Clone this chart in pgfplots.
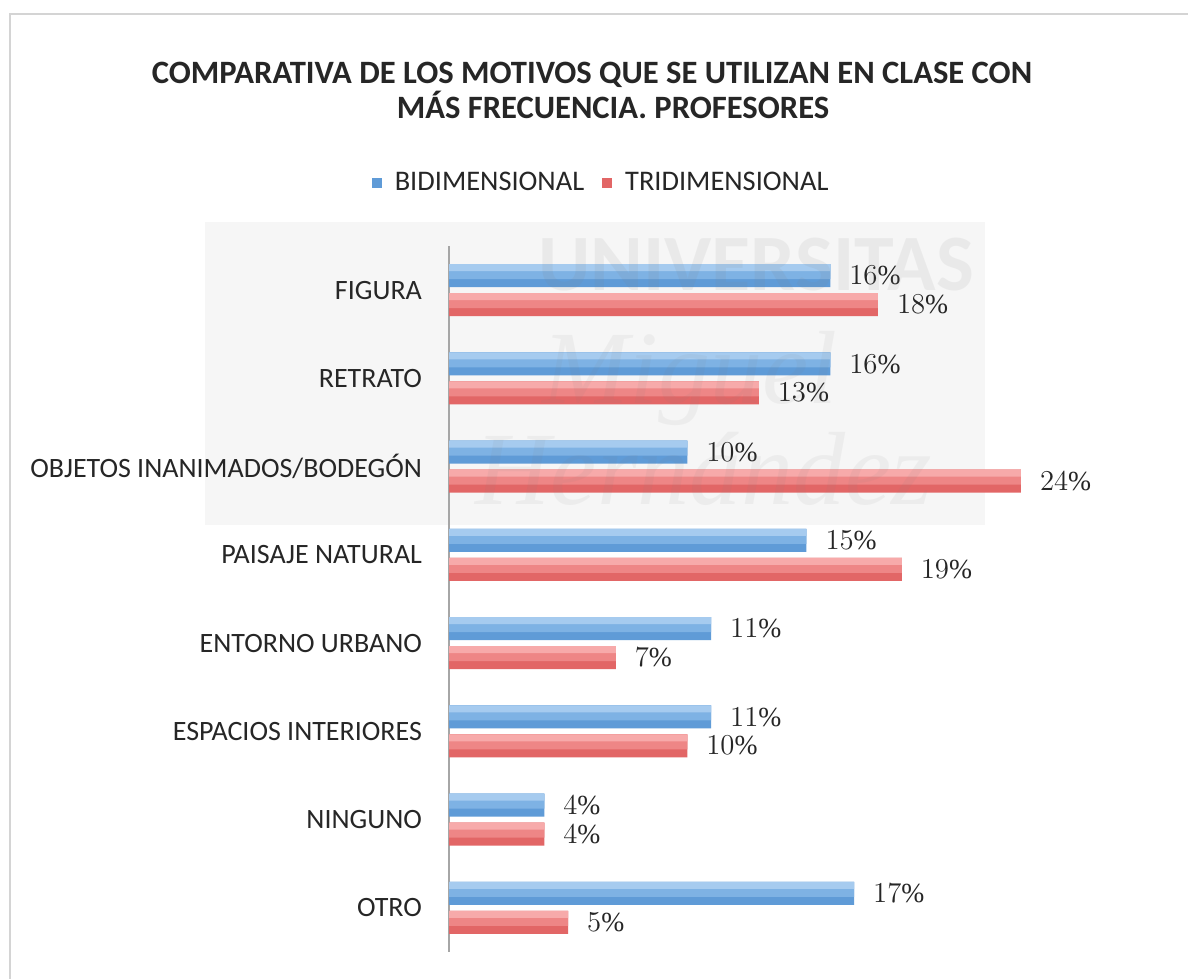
\documentclass[border=0pt]{standalone}
\usepackage{pgfplots}
\usepackage{pgfplotstable}
\pgfplotsset{compat=1.18}
\usepackage{fontspec}
\setmainfont{Carlito}
\newfontfamily\valfont{Liberation Serif}
\newfontfamily\wmserif{Liberation Serif}
\definecolor{blueC}{HTML}{5F9BD7}
\definecolor{blueA}{HTML}{7EB2E4}
\definecolor{blueL}{HTML}{A6CBEF}
\definecolor{redC}{HTML}{E26666}
\definecolor{redA}{HTML}{EE8686}
\definecolor{redL}{HTML}{F7AAAA}
\definecolor{framegray}{HTML}{D4D4D4}
\definecolor{axgray}{HTML}{A6A6A6}
\definecolor{txt}{HTML}{262626}
% y: 7 = FIGURA (top) ... 0 = OTRO (bottom)
\pgfplotstableread{
y bi tri
7 16 18
6 16 13
5 10 24
4 15 19
3 11 7
2 11 10
1 4 4
0 17 5
}\datatable
\begin{document}
\begin{tikzpicture}
\useasboundingbox (0,0) rectangle (594pt,489.5pt);
\fill[white] (0,0) rectangle (594pt,489.5pt);
% frame
\draw[framegray, line width=1.2pt] (5pt,0) -- (5pt,482.5pt) -- (594pt,482.5pt);
% faint watermark box
\fill[black!3.5] (102.5pt,227pt) rectangle (492.5pt,378.5pt);
% title
\node[font=\fontsize{16.3}{19}\selectfont\bfseries, text=txt] at (296pt,452pt) {COMPARATIVA DE LOS MOTIVOS QUE SE UTILIZAN EN CLASE CON};
\node[font=\fontsize{16.3}{19}\selectfont\bfseries, text=txt] at (306.5pt,437pt) {MÁS FRECUENCIA. PROFESORES};
\begin{axis}[
  at={(224.5pt,13.5pt)}, anchor=south west,
  scale only axis, width=297.9pt, height=353pt,
  xbar, xmin=0, xmax=25,
  ymin=-0.5, ymax=7.5,
  hide x axis,
  axis y line*=left,
  y axis line style={axgray, line width=0.8pt, -},
  ytick={0,...,7},
  yticklabels={OTRO,NINGUNO,ESPACIOS INTERIORES,ENTORNO URBANO,PAISAJE NATURAL,OBJETOS INANIMADOS/BODEGÓN,RETRATO,FIGURA},
  major tick length=0pt,
  yticklabel style={font=\fontsize{14}{16}\selectfont, text=txt, xshift=-10pt},
  clip=false,
  point meta=x,
  legend columns=2,
  legend style={at={(0.257,1.089)}, anchor=center, draw=none, fill=none,
    font=\fontsize{14.2}{16}\selectfont, text=txt,
    /tikz/every odd column/.append style={column sep=4.5pt},
    /tikz/every even column/.append style={column sep=7pt}},
  legend image code/.code={\fill[#1] (0pt,-2.5pt) rectangle (5pt,2.5pt);},
  lbl/.style={nodes near coords={\pgfmathprintnumber{\pgfplotspointmeta}\%},
    nodes near coords align={horizontal},
    every node near coord/.append style={font=\valfont\fontsize{13.8}{15}\selectfont, text=txt, xshift=6pt}},
]
% blue base + highlights
\addplot[draw=none, fill=blueC, bar width=11.5pt, bar shift=7.2pt, lbl] table[x=bi,y=y] {\datatable};
\addlegendentry{BIDIMENSIONAL}
\addplot[draw=none, fill=redC, bar width=11.5pt, bar shift=-7.2pt, lbl] table[x=tri,y=y] {\datatable};
\addlegendentry{TRIDIMENSIONAL}
\addplot[forget plot, draw=none, fill=blueA, bar width=7.5pt, bar shift=9.2pt] table[x=bi,y=y] {\datatable};
\addplot[forget plot, draw=none, fill=blueL, bar width=3.5pt, bar shift=11.2pt] table[x=bi,y=y] {\datatable};
\addplot[forget plot, draw=none, fill=redA, bar width=7.5pt, bar shift=-5.2pt] table[x=tri,y=y] {\datatable};
\addplot[forget plot, draw=none, fill=redL, bar width=3.5pt, bar shift=-3.2pt] table[x=tri,y=y] {\datatable};
\end{axis}
% watermark text
\node[font=\fontsize{40}{40}\selectfont\bfseries, text=gray, opacity=0.10] at (378pt,357pt) {UNIVERSITAS};
\node[font=\wmserif\fontsize{52}{52}\selectfont\itshape, text=gray, opacity=0.08] at (345pt,300pt) {Miguel};
\node[font=\wmserif\fontsize{52}{52}\selectfont\itshape, text=gray, opacity=0.08] at (352pt,255pt) {Hernández};
\end{tikzpicture}
\end{document}
